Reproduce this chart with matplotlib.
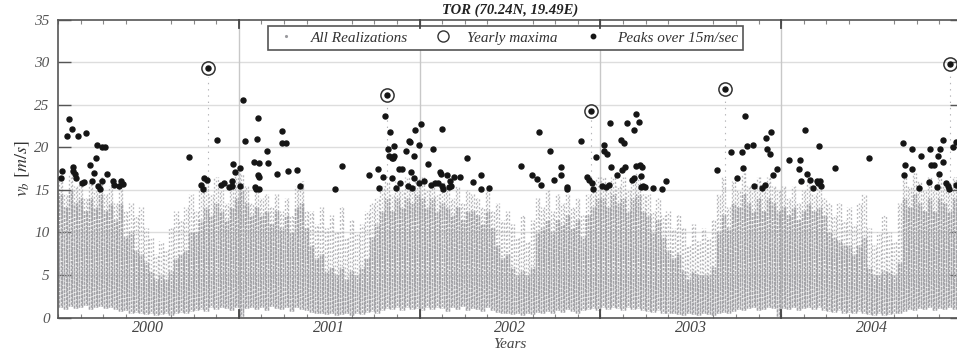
import numpy as np
import matplotlib
matplotlib.use("Agg")
import matplotlib.pyplot as plt
from matplotlib.lines import Line2D

plt.rcParams['font.family'] = ['Liberation Serif', 'DejaVu Serif']
plt.rcParams['mathtext.fontset'] = 'stix'
plt.rcParams['lines.scale_dashes'] = False

# ---------------- data ----------------
years = [2000, 2001, 2002, 2003, 2004]

# gray cloud in ~10-day bins: highest value, top of the dense core, lowest value
top_2000 = [16.5, 14.5, 17.0, 15.5, 16.0, 14.0, 16.0, 15.0, 16.5, 14.5, 15.5, 13.5, 16.0, 12.5, 13.5, 12.0, 13.0, 10.5,
            9.5, 7.5, 9.0, 8.0, 10.5, 12.5, 11.5, 13.0, 14.5, 12.5, 15.0, 16.0, 14.5, 16.5, 15.0, 13.5, 15.5, 17.0]
top_2001 = [17.0, 15.5, 13.5, 15.0, 14.0, 14.5, 13.0, 14.5, 12.5, 14.0, 12.0, 15.5, 16.0, 12.5, 12.5, 11.0, 13.0, 10.5,
            12.0, 10.0, 13.0, 9.5, 11.5, 10.0, 11.0, 12.5, 13.5, 14.0, 15.5, 16.0, 14.5, 16.0, 15.0, 16.5, 15.5, 16.5]
top_2002 = [16.5, 15.0, 16.0, 14.5, 16.0, 15.0, 14.0, 15.5, 13.5, 15.0, 14.5, 14.0, 13.0, 15.0, 12.5, 13.5, 11.5, 12.5,
            11.0, 9.5, 12.0, 9.0, 11.5, 14.0, 13.0, 15.0, 12.5, 14.5, 13.5, 14.5, 13.0, 14.0, 12.0, 14.5, 15.5, 16.5]
top_2003 = [16.5, 15.0, 16.5, 15.5, 16.5, 15.0, 16.0, 17.0, 14.5, 14.5, 12.5, 14.0, 12.0, 12.5, 10.5, 12.0, 10.5, 8.5,
            11.0, 9.0, 10.5, 9.5, 11.5, 14.5, 16.5, 13.0, 16.0, 15.0, 17.0, 15.5, 15.0, 16.5, 15.0, 16.5, 15.5, 15.0]
top_2004 = [15.5, 14.0, 15.5, 13.5, 15.0, 16.0, 14.5, 15.5, 14.0, 13.5, 12.0, 13.5, 11.5, 13.0, 11.0, 13.5, 14.5, 10.5,
            8.5, 10.0, 12.0, 10.0, 9.0, 13.5, 16.5, 15.5, 17.0, 16.0, 15.0, 16.5, 15.0, 16.5, 16.0, 15.0, 16.5]

core_2000 = [14.5, 13, 15, 13.5, 14, 12.5, 14, 13, 14.5, 12.5, 13.5, 11.5, 13.5, 9.5, 10, 8, 7.5, 6.5,
             5.5, 4.5, 5, 4.5, 5.5, 7, 7.5, 8, 10, 10, 11.5, 13, 12, 13.5, 12.5, 11.5, 13, 14]
core_2001 = [15, 13.5, 12, 13, 12, 12.5, 11, 12.5, 10.5, 12, 10, 13, 13.5, 10.5, 8.5, 7, 7.5, 5.5,
             6, 5, 6, 4.5, 5.5, 5, 6, 7, 9.5, 11, 12.5, 14, 12.5, 14, 13, 14, 13.5, 14.5]
core_2002 = [14, 13, 14, 12.5, 13.5, 13, 12, 13, 11.5, 12.5, 12.5, 12, 11, 12.5, 10.5, 8.5, 7, 7.5,
             6, 5, 5.5, 5, 6, 10, 10.5, 11.5, 10, 11.5, 11, 12, 10.5, 11.5, 9.5, 12, 13, 14]
core_2003 = [14, 13, 14.5, 13.5, 14, 12.5, 14, 14.5, 12.5, 12, 10, 11.5, 9.5, 8, 7, 7.5, 5.5, 4.5,
             5.5, 5, 5, 5, 6, 10, 12, 10.5, 13.5, 13, 14.5, 13.5, 12.5, 14, 12.5, 14, 13.5, 12.5]
core_2004 = [13, 12, 13, 11.5, 12.5, 13.5, 12.5, 13, 12, 10, 9.5, 9, 8.5, 8.5, 7.5, 8.5, 9.5, 6,
             5, 5, 5.5, 5.5, 5, 6.5, 14, 13, 14.5, 13.5, 12.5, 14, 12.5, 14, 13.5, 12.5, 14]

low_2000 = [1.2, 1.0, 1.4, 1.1, 1.3, 1.5, 1.0, 1.2, 1.4, 1.1, 1.3, 1.0, 0.8, 0.9, 0.6, 0.7, 0.5, 0.4,
            0.5, 0.3, 0.4, 0.5, 0.3, 0.6, 0.7, 0.5, 0.8, 0.9, 1.0, 0.8, 1.2, 1.0, 1.3, 1.1, 0.9, 1.2]
low_2001 = [0.2, 1.1, 1.3, 1.0, 1.2, 0.9, 1.4, 1.1, 1.0, 1.2, 0.8, 1.3, 1.0, 0.9, 0.7, 0.5, 0.6, 0.4,
            0.5, 0.3, 0.4, 0.6, 0.3, 0.5, 0.4, 0.7, 0.8, 0.6, 0.9, 1.1, 1.0, 1.3, 0.9, 1.2, 1.0, 1.1]
low_2002 = [0.9, 1.2, 1.0, 1.3, 1.1, 0.8, 1.2, 1.0, 1.4, 0.9, 1.1, 1.0, 0.8, 1.2, 0.9, 0.7, 0.6, 0.5,
            0.4, 0.6, 0.3, 0.5, 0.4, 0.7, 0.6, 0.8, 0.5, 0.9, 0.7, 1.0, 0.8, 0.6, 0.9, 1.0, 1.1, 0.9]
low_2003 = [1.2, 1.0, 1.3, 1.1, 0.9, 1.2, 1.0, 1.1, 0.9, 0.8, 0.7, 0.9, 0.6, 0.5, 0.6, 0.4, 0.3, 0.5,
            0.4, 0.3, 0.5, 0.4, 0.3, 0.6, 0.7, 0.5, 0.8, 1.0, 0.9, 1.1, 1.2, 0.9, 1.0, 1.3, 1.1, 0.2]
low_2004 = [1.1, 1.0, 1.2, 0.9, 1.1, 1.3, 1.0, 1.2, 0.9, 0.8, 0.7, 0.9, 0.6, 0.7, 0.5, 0.8, 0.6, 0.4,
            0.3, 0.5, 0.3, 0.4, 0.5, 0.6, 0.8, 1.0, 0.9, 1.1, 1.0, 1.2, 0.9, 1.1, 1.0, 1.2, 1.0]

# peaks over 15 m/s (decimal year, speed)
peak_time = [
    2000.017, 2000.024, 2000.050, 2000.063, 2000.078, 2000.081, 2000.085, 2000.094, 2000.100, 2000.111,
    2000.135, 2000.146, 2000.157, 2000.175, 2000.187, 2000.198, 2000.210, 2000.218, 2000.220, 2000.231,
    2000.242, 2000.244, 2000.260, 2000.270, 2000.304, 2000.312, 2000.339, 2000.350, 2000.360, 2000.727,
    2000.793, 2000.802, 2000.808, 2000.830, 2000.826, 2000.880, 2000.900, 2000.917, 2000.946, 2000.961,
    2000.965, 2000.967, 2000.980, 2001.006, 2001.007, 2001.025, 2001.035, 2001.085, 2001.090, 2001.096,
    2001.100, 2001.105, 2001.108, 2001.110, 2001.112, 2001.114, 2001.158, 2001.164, 2001.210, 2001.238,
    2001.241, 2001.260, 2001.274, 2001.324, 2001.341, 2001.533, 2001.570,
    2001.721, 2001.769, 2001.773, 2001.795, 2001.810, 2001.821, 2001.825, 2001.832, 2001.839, 2001.847,
    2001.848, 2001.854, 2001.858, 2001.859, 2001.869, 2001.887, 2001.889, 2001.905, 2001.924, 2001.935,
    2001.939, 2001.946, 2001.954, 2001.959, 2001.968, 2001.970, 2001.977, 2001.994, 2001.999, 2002.009,
    2002.027, 2002.046, 2002.064, 2002.075, 2002.086, 2002.101, 2002.112, 2002.120, 2002.123, 2002.125,
    2002.127, 2002.149, 2002.164, 2002.168, 2002.175, 2002.190, 2002.226, 2002.263, 2002.293, 2002.337,
    2002.339, 2002.384,
    2002.562, 2002.621, 2002.647, 2002.658, 2002.669, 2002.721, 2002.743, 2002.780, 2002.782, 2002.813,
    2002.817, 2002.894, 2002.928, 2002.935, 2002.950, 2002.952, 2002.961, 2002.977, 2003.009, 2003.020,
    2003.022, 2003.033, 2003.038, 2003.049, 2003.053, 2003.056, 2003.094, 2003.116, 2003.120, 2003.131,
    2003.138, 2003.145, 2003.175, 2003.186, 2003.188, 2003.197, 2003.199, 2003.211, 2003.219, 2003.225,
    2003.226, 2003.230, 2003.237, 2003.248, 2003.289,
    2003.339, 2003.365, 2003.643, 2003.691, 2003.721, 2003.758, 2003.784, 2003.787, 2003.802, 2003.811,
    2003.842, 2003.850, 2003.894, 2003.909, 2003.916, 2003.924, 2003.936, 2003.942, 2003.957, 2003.975,
    2004.042, 2004.097, 2004.105, 2004.112, 2004.130, 2004.145,
    2004.160, 2004.178, 2004.200, 2004.204, 2004.211, 2004.213, 2004.222, 2004.296, 2004.488, 2004.675,
    2004.680, 2004.687, 2004.721, 2004.724, 2004.761, 2004.772, 2004.816, 2004.822, 2004.828, 2004.846,
    2004.861, 2004.868, 2004.872, 2004.876, 2004.894, 2004.896, 2004.913, 2004.924, 2004.927, 2004.932,
    2004.953, 2004.968, 2004.966,
]
peak_speed = [
    16.4, 17.2, 21.3, 23.3, 22.1, 17.7, 17.2, 16.9, 16.4, 21.3,
    15.8, 15.9, 21.7, 17.9, 16.1, 17.0, 18.7, 20.3, 15.5, 15.1,
    16.1, 20.0, 20.0, 16.9, 16.1, 15.6, 15.4, 16.1, 15.7, 18.9,
    15.6, 15.1, 16.4, 29.3, 16.2, 20.9, 15.6, 15.8, 15.3, 15.5,
    16.0, 18.0, 17.1, 15.4, 17.6, 25.5, 20.7, 18.3, 15.3, 15.1,
    21.0, 16.7, 23.4, 16.5, 15.1, 18.2, 19.6, 18.1, 16.9, 21.9,
    20.5, 20.5, 17.2, 17.3, 15.4, 15.1, 17.8,
    16.7, 17.4, 15.2, 16.5, 23.7, 26.1, 19.8, 19.0, 21.8, 16.4,
    18.8, 18.7, 20.1, 19.0, 15.2, 17.5, 15.8, 17.5, 19.6, 15.5,
    20.7, 20.6, 17.1, 15.2, 19.0, 16.4, 22.0, 20.3, 15.8, 22.7,
    16.0, 18.0, 15.6, 19.8, 15.8, 15.8, 17.1, 16.9, 22.1, 15.4,
    15.1, 16.7, 15.3, 16.0, 15.5, 16.5, 16.5, 18.8, 15.9, 16.7,
    15.1, 15.2,
    17.8, 16.7, 16.3, 21.8, 15.6, 19.6, 16.2, 17.7, 16.8, 15.3,
    15.1, 20.7, 16.5, 16.2, 24.3, 15.8, 15.1, 18.9, 15.5, 19.6,
    20.3, 15.3, 19.2, 15.6, 22.8, 17.7, 16.8, 20.8, 17.3, 20.5,
    17.7, 22.8, 16.2, 16.4, 22.0, 17.8, 23.9, 23.0, 17.9, 16.6,
    15.3, 17.7, 15.5, 15.3, 15.2,
    15.1, 16.1, 17.3, 26.8, 19.4, 16.4, 19.4, 17.6, 23.7, 20.2,
    20.3, 15.5, 15.2, 15.6, 21.1, 19.8, 19.2, 21.8, 16.8, 17.5,
    18.5, 17.4, 18.5, 16.1, 22.0, 16.9,
    16.2, 15.2, 16.0, 15.8, 20.2, 16.0, 15.5, 17.6, 18.7, 20.5,
    16.7, 17.9, 17.5, 19.8, 15.2, 19.0, 15.9, 19.8, 17.9, 17.9,
    15.3, 19.0, 16.9, 19.8, 20.9, 18.3, 15.8, 15.4, 15.1, 29.8,
    20.0, 20.6, 15.6,
]

# yearly maxima
max_time = [2000.830, 2001.821, 2002.950, 2003.691, 2004.932]
max_speed = [29.3, 26.1, 24.3, 26.8, 29.8]

cloud_top = np.array(top_2000 + top_2001 + top_2002 + top_2003 + top_2004)
cloud_core = np.array(core_2000 + core_2001 + core_2002 + core_2003 + core_2004)
cloud_low = np.array(low_2000 + low_2001 + low_2002 + low_2003 + low_2004)

# ---------------- figure ----------------
fig = plt.figure(figsize=(9.57, 3.56), dpi=100)
ax = fig.add_axes([0.0606, 0.1076, 0.9446, 0.8376])
ax.set_xlim(2000.0, 2005.0)
ax.set_ylim(0, 35)

# grid
for v in range(5, 35, 5):
    ax.axhline(v, color='#dddddd', lw=1.0, zorder=0)
for b in years[1:]:
    ax.axvline(b, color='#c8c8c8', lw=1.0, zorder=0)

# gray cloud (all realizations)
n = len(cloud_top)
bin_t = 2000 + (np.arange(n) + 0.5) / 36.0
px = 1.0 / 181.0
subcols = [(-1.7 * px, 0.0, (1.3, 1.6), (2.2, 0.8)),
           (0.0, 1.4, (1.1, 1.9), (1.7, 1.0)),
           (1.7 * px, 0.6, (1.5, 1.3), (2.7, 0.7))]
for off, doff, sparse_dash, core_dash in subcols:
    ax.vlines(bin_t + off, cloud_low, cloud_top, colors='#b9b9bc', linewidth=0.95,
              linestyles=[(doff, sparse_dash)], zorder=1)
    ax.vlines(bin_t + off, cloud_low, cloud_core, colors='#a3a3a7', linewidth=1.05,
              linestyles=[(doff, core_dash)], zorder=2)

# gray streaks up to the yearly maxima
ax.vlines(max_time, 15, np.array(max_speed) - 1.0, colors='#b5b5b8', linewidth=0.8,
          linestyles=[(0, (1.0, 3.5))], zorder=2)

# peaks and yearly maxima
ax.plot(peak_time, peak_speed, 'o', ms=3.6, color='#151515', mec='#151515', zorder=4)
ax.plot(max_time, max_speed, 'o', ms=9.5, mfc='none', mec='#333333', mew=1.1, zorder=5)

# ticks
ax.set_yticks(range(0, 36, 5))
ax.tick_params(axis='y', direction='in', length=9, width=1.0, color='#555555',
               labelcolor='#555555', labelsize=11, right=True, pad=6)
for lab in ax.get_yticklabels():
    lab.set_fontstyle('italic')

mids = [y + 0.5 for y in years]
ax.set_xticks(mids)
ax.set_xticklabels([str(y) for y in years], fontstyle='italic', fontsize=11.5, color='#444444')
ax.tick_params(axis='x', which='major', length=0, pad=2)
ax.set_xticks(np.arange(2000.0, 2005.01, 0.125), minor=True)
ax.tick_params(axis='x', which='minor', direction='in', length=3, width=0.8,
               color='#888888', top=True)
xt = ax.get_xaxis_transform()
for b in years[1:]:
    ax.plot([b, b], [0, 0.025], color='#444444', lw=1.3, transform=xt, zorder=6, clip_on=False)
    ax.plot([b, b], [0.97, 1.0], color='#444444', lw=1.3, transform=xt, zorder=6, clip_on=False)

for s in ax.spines.values():
    s.set_color('#555555')
    s.set_linewidth(1.2)

ax.set_xlabel('Years', fontstyle='italic', fontsize=11, color='#444444', labelpad=1)
ax.set_ylabel(r'$v_b\ [m/s]$', fontsize=13, color='#333333', labelpad=2)
ax.set_title('TOR (70.24N, 19.49E)', fontsize=10.5, fontweight='bold', fontstyle='italic',
             color='#222222', pad=4)

handles = [
    Line2D([], [], ls='none', marker='.', ms=2.5, color='#9a9a9e'),
    Line2D([], [], ls='none', marker='o', ms=8, mfc='none', mec='#333333', mew=1.0),
    Line2D([], [], ls='none', marker='o', ms=3.2, color='#151515'),
]
labels = ['All Realizations', 'Yearly maxima', 'Peaks over 15m/sec']
leg = ax.legend(handles, labels, ncol=3, loc='upper center', bbox_to_anchor=(0.4955, 0.979),
                frameon=True, fancybox=False, edgecolor='#555555', framealpha=1,
                prop={'family': 'Liberation Serif', 'style': 'italic', 'size': 11},
                handlelength=1.6, handletextpad=0.8, columnspacing=1.5,
                borderpad=0.35, borderaxespad=0)
leg.get_frame().set_linewidth(1.2)
for t in leg.get_texts():
    t.set_color('#333333')

fig.savefig('out.png', dpi=100)
